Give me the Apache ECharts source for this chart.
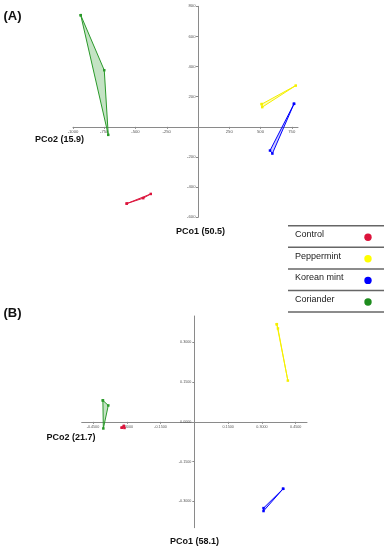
<!DOCTYPE html>
<html><head><meta charset="utf-8">
<script src="https://cdn.jsdelivr.net/npm/echarts@6/dist/echarts.min.js"></script>
<style>html,body{margin:0;padding:0;background:#fff}#c{width:389px;height:550px}</style>
</head><body><div id="c"></div>
<script>
// ----- Data -----
const groups = ['Control', 'Peppermint', 'Korean mint', 'Coriander'];

// Panel A (PCo1 50.5 / PCo2 15.9)
const aControlX = [-570, -438, -378];
const aControlY = [-509, -473, -445];
const aPepperX = [510, 514, 782];
const aPepperY = [151, 131, 274];
const aKoreanX = [768, 576, 595];
const aKoreanY = [153, -157, -177];
const aCorianderX = [-938, -750, -718];
const aCorianderY = [741, 376, -53];

// Panel B (PCo1 58.1 / PCo2 21.7)
const bControlX = [-0.322, -0.313, -0.310];
const bControlY = [-0.022, -0.015, -0.023];
const bPepperX = [0.366, 0.371, 0.415];
const bPepperY = [0.369, 0.353, 0.156];
const bKoreanX = [0.394, 0.307, 0.307];
const bKoreanY = [-0.253, -0.326, -0.337];
const bCorianderX = [-0.406, -0.382, -0.404];
const bCorianderY = [0.081, 0.062, -0.025];

// Axis ranges and tick labels
const aXRange = [-1000, 800];
const aYRange = [-600, 800];
const bXRange = [-0.5, 0.5];
const bYRange = [-0.4, 0.4];
const aXTicks = [-1000, -750, -500, -250, 250, 500, 750];
const aYTicks = [-600, -400, -200, 200, 400, 600, 800];
const bXTicks = [-0.45, -0.30, -0.15, 0.15, 0.30, 0.45];
const bYTicks = [-0.30, -0.15, 0, 0.15, 0.30];

// Axis titles
const aNames = ['PCo1 (50.5)', 'PCo2 (15.9)'];
const bNames = ['PCo1 (58.1)', 'PCo2 (21.7)'];

// ----- Styles / layout -----
const colors = ['#dc143c', '#f5f000', '#0000ff', '#2a9a2a'];
const dotColors = ['#dc143c', '#ffff00', '#0000ff', '#1e8c1e'];
const fills = ['rgba(220,20,60,0.25)', 'rgba(245,240,0,0.25)', 'rgba(0,0,255,0.2)', 'rgba(42,154,42,0.28)'];
const F = "'Liberation Sans', Arial, sans-serif";
const gA = { left: 73, top: 6.3, width: 225, height: 211 };
const gB = { left: 81.7, top: 316, width: 225.3, height: 211.7 };

// offsets so that axes cross at the origin (axis stays at zero, labels follow)
function xOffset(g, yr) { const zeroY = g.top + g.height * yr[1] / (yr[1] - yr[0]); return -(g.top + g.height - zeroY); }
function yOffset(g, xr) { const zeroX = g.left + g.width * (-xr[0]) / (xr[1] - xr[0]); return -(zeroX - g.left); }

function groupSeries(gi, X, Y, ci) {
  const pts = X.map((x, i) => [x, Y[i]]);
  const closed = pts.concat([pts[0]]);
  return [
    {
      type: 'custom', xAxisIndex: gi, yAxisIndex: gi, z: 2,
      data: [[X[0], Y[0]]],
      renderItem: function (params, api) {
        const poly = pts.map(p => api.coord(p));
        return { type: 'polygon', shape: { points: poly }, style: { fill: fills[ci], stroke: 'none' } };
      },
      silent: true
    },
    {
      type: 'line', name: groups[ci], xAxisIndex: gi, yAxisIndex: gi, z: 3,
      data: closed, symbol: 'rect', symbolSize: 2.5, showSymbol: true,
      lineStyle: { color: colors[ci], width: 1 }, itemStyle: { color: colors[ci] },
      animation: false, silent: true
    }
  ];
}

function axisCommon(ticks, fmt, fs, margin) {
  return {
    type: 'value',
    splitLine: { show: false },
    axisLine: { onZero: false, lineStyle: { color: '#8a8a8a', width: 1 } },
    axisTick: { show: true, customValues: ticks, length: 2, lineStyle: { color: '#8a8a8a' } },
    axisLabel: { customValues: ticks, formatter: fmt, fontSize: fs, margin: margin, color: '#555', fontFamily: F }
  };
}

const fA = v => String(v);
const fB = v => v.toFixed(4);

let series = [];
series = series.concat(groupSeries(0, aCorianderX, aCorianderY, 3));
series = series.concat(groupSeries(0, aControlX, aControlY, 0));
series = series.concat(groupSeries(0, aPepperX, aPepperY, 1));
series = series.concat(groupSeries(0, aKoreanX, aKoreanY, 2));
series = series.concat(groupSeries(1, bCorianderX, bCorianderY, 3));
series = series.concat(groupSeries(1, bControlX, bControlY, 0));
series = series.concat(groupSeries(1, bPepperX, bPepperY, 1));
series = series.concat(groupSeries(1, bKoreanX, bKoreanY, 2));

// Legend table (graphic)
const legendTop = 225.7, rowH = 21.6, legL = 288, legR = 384;
const legendEls = [];
for (let i = 0; i <= groups.length; i++) {
  const y = legendTop + i * rowH;
  legendEls.push({ type: 'line', shape: { x1: legL, y1: y, x2: legR, y2: y }, style: { stroke: '#666', lineWidth: 1.5 } });
}
groups.forEach((g, i) => {
  const y = legendTop + i * rowH;
  legendEls.push({ type: 'text', x: 295, y: y + 9, style: { text: g, font: '9px ' + F, fill: '#222', textAlign: 'left', textVerticalAlign: 'middle' } });
  legendEls.push({ type: 'circle', shape: { cx: 368, cy: y + 11.5, r: 3.7 }, style: { fill: dotColors[i] } });
});

function label(text, x, y, size) {
  return { type: 'text', x: x, y: y, style: { text: text, font: 'bold ' + size + 'px ' + F, fill: '#111', textAlign: 'center', textVerticalAlign: 'middle' } };
}

const option = {
  animation: false,
  backgroundColor: '#fff',
  grid: [gA, gB],
  xAxis: [
    Object.assign(axisCommon(aXTicks, fA, 4.2, 2.5), { gridIndex: 0, min: aXRange[0], max: aXRange[1], position: 'bottom', offset: xOffset(gA, aYRange) }),
    Object.assign(axisCommon(bXTicks, fB, 3.7, 3), { gridIndex: 1, min: bXRange[0], max: bXRange[1], position: 'bottom', offset: xOffset(gB, bYRange) })
  ],
  yAxis: [
    Object.assign(axisCommon(aYTicks, fA, 4.2, 2.5), { gridIndex: 0, min: aYRange[0], max: aYRange[1], position: 'left', offset: yOffset(gA, aXRange) }),
    Object.assign(axisCommon(bYTicks, fB, 3.7, 3), { gridIndex: 1, min: bYRange[0], max: bYRange[1], position: 'left', offset: yOffset(gB, bXRange) })
  ],
  series: series,
  graphic: [
    label('(A)', 12.5, 16, 13),
    label('(B)', 12.5, 313, 13),
    label(aNames[1], 59.5, 139.5, 9),
    label(aNames[0], 200.5, 231.5, 9),
    label(bNames[1], 71, 437.7, 9),
    label(bNames[0], 194.5, 541.5, 9)
  ].concat(legendEls)
};

const chart = echarts.init(document.getElementById('c'), null, { renderer: 'canvas' });
chart.setOption(option);
</script>
</body></html>
